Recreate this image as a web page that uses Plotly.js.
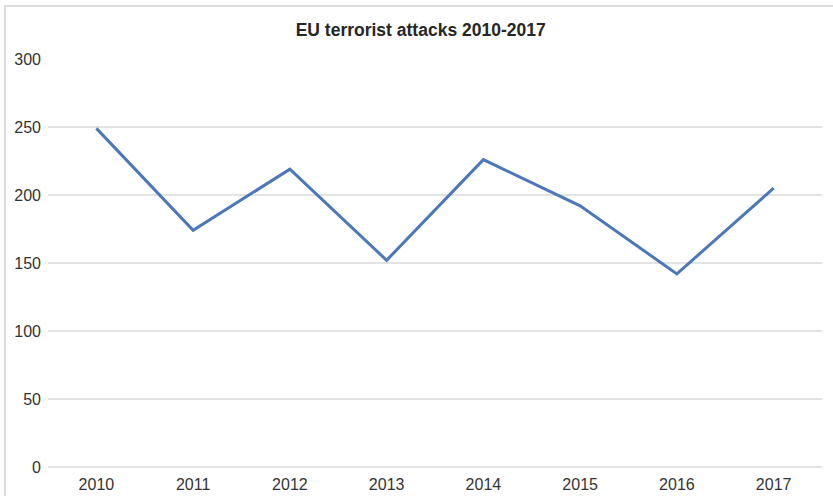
<!DOCTYPE html>
<html>
<head>
<meta charset="utf-8">
<script src="https://cdn.plot.ly/plotly-3.0.1.min.js"></script>
<style>
html,body{margin:0;padding:0;background:#fff;}
#chart{width:833px;height:496px;position:absolute;left:0;top:0;}
#frame{position:absolute;left:4px;top:5px;width:840px;height:500px;border-left:2px solid #dcdcdc;border-top:2px solid #dcdcdc;pointer-events:none;}
</style>
</head>
<body>
<div id="chart"></div>
<div id="frame"></div>
<script>
const years = ['2010','2011','2012','2013','2014','2015','2016','2017'];
const attacks = [249, 174, 219, 152, 226, 192, 142, 205];
const yTicks = [0, 50, 100, 150, 200, 250, 300];
const chartTitle = 'EU terrorist attacks 2010-2017';

const trace = {
  x: years,
  y: attacks,
  type: 'scatter',
  mode: 'lines',
  line: {color: '#4a78b8', width: 3},
  hoverinfo: 'x+y'
};

const layout = {
  width: 833,
  height: 496,
  margin: {l: 48, r: 11, t: 59, b: 29},
  paper_bgcolor: '#ffffff',
  plot_bgcolor: '#ffffff',
  showlegend: false,
  font: {family: '"Liberation Sans", Arial, sans-serif', color: '#333333', size: 16},
  title: {
    text: '<b>' + chartTitle + '</b>',
    font: {family: '"Liberation Sans", Arial, sans-serif', size: 17.5, color: '#262626'},
    x: 0.505, xanchor: 'center',
    y: 1 - 30/496, yref: 'container', yanchor: 'middle'
  },
  xaxis: {
    type: 'category',
    range: [-0.5, 7.5],
    showgrid: false,
    zeroline: false,
    showline: false,
    ticks: '',
    tickfont: {size: 16, color: '#333333'},
    ticklabelstandoff: 6,
    fixedrange: true
  },
  yaxis: {
    range: [0, 300],
    tickvals: yTicks,
    ticktext: yTicks.map(String),
    showgrid: true,
    gridcolor: '#e3e3e3',
    gridwidth: 1.5,
    zeroline: true,
    zerolinecolor: '#e3e3e3',
    zerolinewidth: 1.5,
    showline: false,
    ticks: '',
    tickfont: {size: 16, color: '#333333'},
    ticklabelstandoff: 6,
    fixedrange: true
  }
};

Plotly.newPlot('chart', [trace], layout, {displayModeBar: false, staticPlot: true});
</script>
</body>
</html>
